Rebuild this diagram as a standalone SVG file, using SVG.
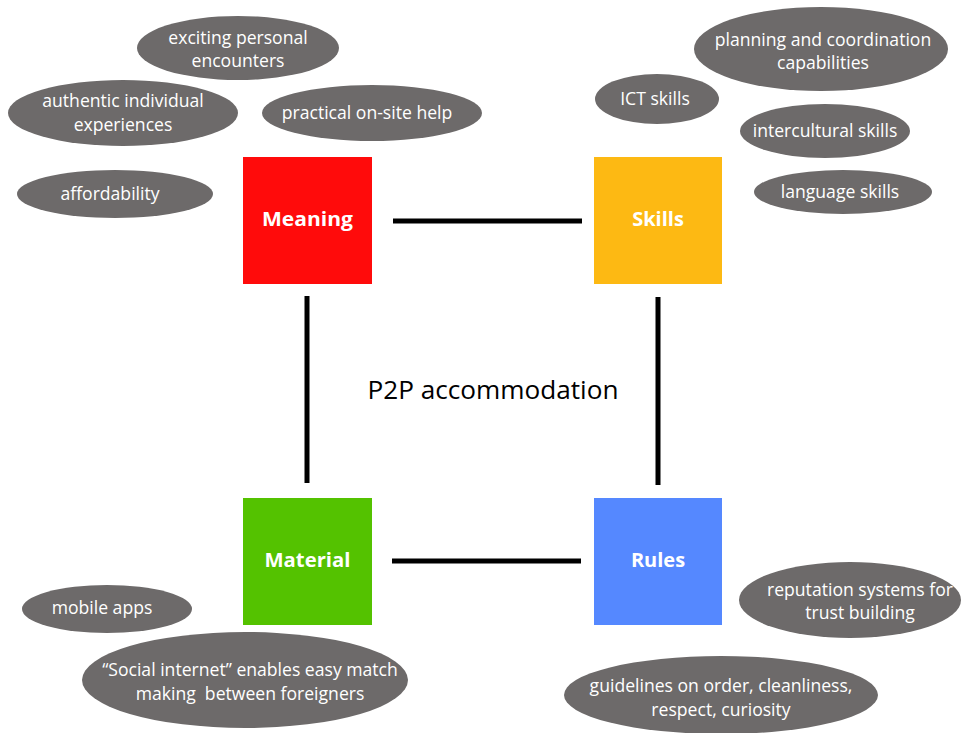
<svg xmlns="http://www.w3.org/2000/svg" width="961" height="733" viewBox="0 0 961 733">
<style>
.bub{fill:#6d6a6a}
.bt{fill:#fff;font-family:"Open Sans","Noto Sans",sans-serif;font-size:17.6px;text-anchor:middle;white-space:pre}
.sq{font-family:"Open Sans","Noto Sans",sans-serif;font-size:20px;font-weight:bold;fill:#fff;text-anchor:middle}
.ln{stroke:#000;stroke-width:5;fill:none}
</style>
<rect width="961" height="733" fill="#fff"/>
<g id="connectors">
<line class="ln" x1="393" y1="221" x2="582" y2="221"/>
<line class="ln" x1="392" y1="561" x2="581" y2="561"/>
<line class="ln" x1="307" y1="296" x2="307" y2="483"/>
<line class="ln" x1="658" y1="297" x2="658" y2="485"/>
</g>
<g id="center">
<text x="493" y="399" font-family="'Open Sans','Noto Sans',sans-serif" font-size="25" text-anchor="middle" fill="#000" textLength="251" lengthAdjust="spacingAndGlyphs">P2P accommodation</text>
</g>
<g id="meaning"><rect x="243" y="157" width="129" height="127" fill="#ff0b0b"/><text class="sq" x="307.5" y="226" textLength="91" lengthAdjust="spacingAndGlyphs">Meaning</text></g>
<g id="skills"><rect x="594" y="157" width="128" height="127" fill="#fdb913"/><text class="sq" x="658" y="226">Skills</text></g>
<g id="material"><rect x="243" y="498" width="129" height="127" fill="#54c200"/><text class="sq" x="307.5" y="567" textLength="86" lengthAdjust="spacingAndGlyphs">Material</text></g>
<g id="rules"><rect x="594" y="498" width="128" height="127" fill="#5588ff"/><text class="sq" x="658" y="567">Rules</text></g>

<g id="b-encounters"><ellipse class="bub" cx="238" cy="48" rx="101" ry="32"/><text class="bt" x="238" y="44">exciting personal</text><text class="bt" x="238" y="67">encounters</text></g>
<g id="b-authentic"><ellipse class="bub" cx="123" cy="113" rx="115" ry="33"/><text class="bt" x="123" y="107">authentic individual</text><text class="bt" x="123" y="131">experiences</text></g>
<g id="b-practical"><ellipse class="bub" cx="372" cy="113" rx="110" ry="28"/><text class="bt" x="367" y="119">practical on-site help</text></g>
<g id="b-afford"><ellipse class="bub" cx="115" cy="194" rx="98" ry="24"/><text class="bt" x="110" y="200">affordability</text></g>

<g id="b-planning"><ellipse class="bub" cx="821" cy="49" rx="127" ry="42"/><text class="bt" x="823" y="46">planning and coordination</text><text class="bt" x="823" y="69">capabilities</text></g>
<g id="b-ict"><ellipse class="bub" cx="657" cy="99" rx="62" ry="25"/><text class="bt" x="655" y="105">ICT skills</text></g>
<g id="b-intercultural"><ellipse class="bub" cx="825" cy="131" rx="85" ry="27"/><text class="bt" x="825" y="137">intercultural skills</text></g>
<g id="b-language"><ellipse class="bub" cx="843" cy="192" rx="89" ry="22"/><text class="bt" x="840" y="198">language skills</text></g>

<g id="b-mobile"><ellipse class="bub" cx="107" cy="609" rx="85" ry="24"/><text class="bt" x="102" y="614">mobile apps</text></g>
<g id="b-social"><ellipse class="bub" cx="245" cy="680" rx="163" ry="48"/><text class="bt" x="250" y="676">“Social internet” enables easy match</text><text class="bt" x="250" y="700">making  between foreigners</text></g>

<g id="b-reputation"><ellipse class="bub" cx="850" cy="600" rx="111" ry="38"/><text class="bt" x="860" y="596">reputation systems for</text><text class="bt" x="860" y="619">trust building</text></g>
<g id="b-guidelines"><ellipse class="bub" cx="721" cy="695" rx="157" ry="39"/><text class="bt" x="721" y="692">guidelines on order, cleanliness,</text><text class="bt" x="721" y="716">respect, curiosity</text></g>
</svg>
